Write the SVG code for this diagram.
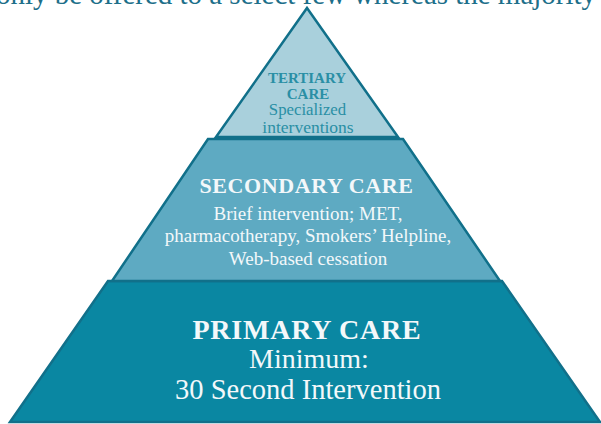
<svg xmlns="http://www.w3.org/2000/svg" width="601" height="424" viewBox="0 0 601 424">
  <style>
    .tier { stroke: #11708a; stroke-width: 2.5; stroke-linejoin: miter; }
    .t1 { fill: #0a87a2; }
    .t2 { fill: #5eaac2; }
    .t3 { fill: #a9d0dc; }
    text { font-family: "Liberation Serif", "Times New Roman", serif; text-anchor: middle; }
    .light { fill: #f3f8fa; }
    .teal { fill: #2a8fa5; }
    .head { font-weight: bold; }
  </style>

  <!-- running text line above the pyramid, cut by the top edge -->
  <text x="-4" y="4" font-size="29" fill="#1d6f8a" textLength="600" lengthAdjust="spacing" style="text-anchor:start">only be offered to a select few whereas the majority</text>

  <!-- base tier -->
  <g id="primary-care">
    <polygon class="tier t1" points="108,281 502,281 600,422 10,422"/>
    <text class="light head" x="307" y="339" font-size="28" letter-spacing="0.8">PRIMARY CARE</text>
    <text class="light" x="309" y="368" font-size="28">Minimum:</text>
    <text class="light" x="308" y="399" font-size="28.5">30 Second Intervention</text>
  </g>

  <!-- middle tier -->
  <g id="secondary-care">
    <polygon class="tier t2" points="208,139 403,139 500,281 112,281"/>
    <text class="light head" x="306.5" y="193" font-size="22" letter-spacing="0.6">SECONDARY CARE</text>
    <text class="light" x="308" y="220" font-size="19">Brief intervention; MET,</text>
    <text class="light" x="308" y="242" font-size="19">pharmacotherapy, Smokers’ Helpline,</text>
    <text class="light" x="308" y="265" font-size="19">Web-based cessation</text>
  </g>

  <!-- top tier -->
  <g id="tertiary-care">
    <polygon class="tier t3" points="307,8 398,137 216,137"/>
    <text class="teal head" x="307" y="83" font-size="15">TERTIARY</text>
    <text class="teal head" x="308" y="99" font-size="15">CARE</text>
    <text class="teal" x="307.5" y="114.5" font-size="16.8">Specialized</text>
    <text class="teal" x="308" y="133" font-size="17.5">interventions</text>
  </g>

  <!-- no connectors in this diagram -->
  <g id="connectors"/>
</svg>
